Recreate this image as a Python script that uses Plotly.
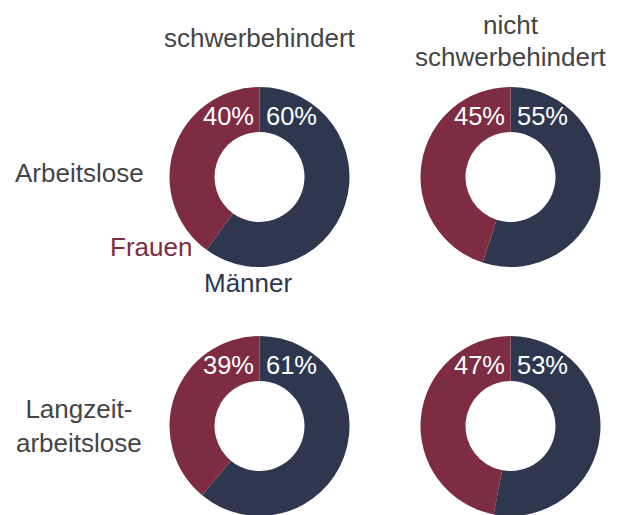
import plotly.graph_objects as go

# Daten
spalten = ["schwerbehindert", "nicht<br>schwerbehindert"]
zeilen = ["Arbeitslose", "Langzeit-<br>arbeitslose"]
geschlecht = ["Männer", "Frauen"]
frauen = [[40, 45], [39, 47]]
maenner = [[60, 55], [61, 53]]

farben = ["#2e374e", "#7d2c42"]
grau = "#454545"
schrift = "Liberation Sans, Arial, sans-serif"

W, H = 618, 515
OFF = 8  # Seitenrand des Browsers ausgleichen


def px_x(x):
    return (x - OFF) / W


def px_y(y):
    return 1 - (y - OFF) / H


zentren_x = [259.5, 510.5]
zentren_y = [177, 426]
radius = 90

fig = go.Figure()
annotations = []

for i, cy in enumerate(zentren_y):
    for j, cx in enumerate(zentren_x):
        fig.add_trace(go.Pie(
            labels=geschlecht,
            values=[maenner[i][j], frauen[i][j]],
            hole=0.5,
            sort=False,
            direction="counterclockwise",
            marker=dict(colors=farben, line=dict(width=0)),
            textinfo="none",
            hoverinfo="label+percent",
            showlegend=False,
            domain=dict(
                x=[px_x(cx - radius), px_x(cx + radius)],
                y=[max(0, px_y(cy + radius)), px_y(cy - radius)]
            )
        ))
        # Prozentwerte oben im Ring
        ty = px_y(cy - 61)
        annotations.append(dict(
            x=px_x(cx - 4), y=ty, xref="paper", yref="paper",
            text=f"{frauen[i][j]}%", showarrow=False,
            xanchor="right", yanchor="middle",
            font=dict(color="white", size=25.5, family=schrift)
        ))
        annotations.append(dict(
            x=px_x(cx + 4), y=ty, xref="paper", yref="paper",
            text=f"{maenner[i][j]}%", showarrow=False,
            xanchor="left", yanchor="middle",
            font=dict(color="white", size=25.5, family=schrift)
        ))

# Spaltentitel (zeilenweise, oben angelegt)
for j, cx in enumerate(zentren_x):
    teile = spalten[j].split("<br>")
    if len(teile) == 1:
        annotations.append(dict(
            x=px_x(cx), y=px_y(38), xref="paper", yref="paper",
            text=teile[0], showarrow=False,
            xanchor="center", yanchor="middle",
            font=dict(color=grau, size=26, family=schrift)
        ))
    else:
        for k, teil in enumerate(teile):
            annotations.append(dict(
                x=px_x(cx), y=px_y(8 + 32 * k), xref="paper", yref="paper",
                text=teil, showarrow=False,
                xanchor="center", yanchor="top",
                font=dict(color=grau, size=26, family=schrift)
            ))

# Zeilentitel
for i, cy in enumerate([173, 426]):
    annotations.append(dict(
        x=px_x(79), y=px_y(cy), xref="paper", yref="paper",
        text=zeilen[i], showarrow=False,
        xanchor="center", yanchor="middle",
        font=dict(color=grau, size=26, family=schrift)
    ))

# Legende als Beschriftung
annotations.append(dict(
    x=px_x(151), y=px_y(247), xref="paper", yref="paper",
    text="Frauen", showarrow=False, xanchor="center", yanchor="middle",
    font=dict(color=farben[1], size=26, family=schrift)
))
annotations.append(dict(
    x=px_x(248), y=px_y(283), xref="paper", yref="paper",
    text="Männer", showarrow=False, xanchor="center", yanchor="middle",
    font=dict(color=farben[0], size=26, family=schrift)
))

fig.update_layout(
    width=W,
    height=H,
    margin=dict(l=0, r=0, t=0, b=0),
    paper_bgcolor="white",
    plot_bgcolor="white",
    annotations=annotations
)

fig.write_html("out.html")
